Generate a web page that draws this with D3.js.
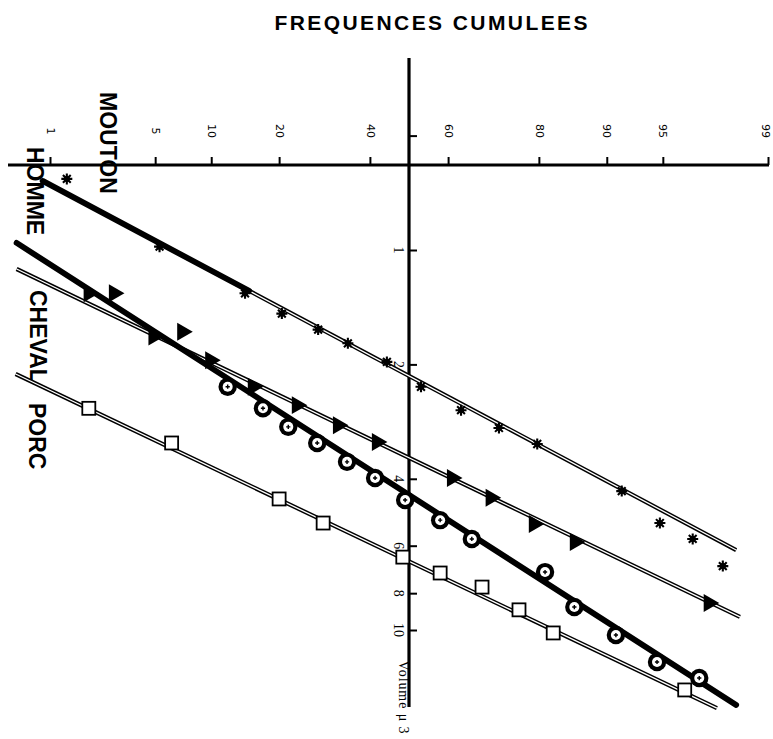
<!DOCTYPE html>
<html>
<head>
<meta charset="utf-8">
<script src="https://cdn.jsdelivr.net/npm/d3@7"></script>
<style>
  body { margin: 0; background: #fff; }
  svg { display: block; background: #fff; }
</style>
</head>
<body>
<svg width="773" height="739"></svg>
<script>
//## DATA ##
// x = cumulative frequency (%), y = volume (µ3)
const percentTicks = [1, 5, 10, 20, 40, 60, 80, 90, 95, 99]
const volumeTicks = [0.5, 1, 2, 4, 6, 8, 10]
const volumeLabels = ['', '1', '2', '4', '6', '8', '10']

//-- MOUTON (asterisks) --
const moutonPct = [1.33, 5.3, 14.4, 20.5, 27.8, 34.6, 44.3, 53.1, 63.2, 72.0, 79.7, 91.6, 94.8, 96.7, 97.9]
const moutonVol = [0.65, 0.98, 1.30, 1.47, 1.62, 1.76, 1.97, 2.29, 2.64, 2.94, 3.24, 4.31, 5.23, 5.76, 6.79]
const moutonFit = [[0.88, 0.658], [98.3, 6.16]]
const moutonSolidTo = 15

//-- HOMME (circles) --
const hommePct = [12.0, 17.2, 21.7, 27.6, 34.4, 41.3, 49.0, 58.0, 65.8, 81.1, 85.8, 91.0, 94.6, 97.0]
const hommeVol = [2.29, 2.61, 2.92, 3.22, 3.61, 3.98, 4.55, 5.14, 5.76, 7.04, 8.70, 10.31, 12.14, 13.38]
const hommeFit = [[0.55, 0.958], [98.3, 15.75]]

//-- CHEVAL (triangles) --
const chevalPct = [1.9, 2.8, 4.9, 7.1, 9.9, 15.6, 23.4, 32.3, 41.8, 61.0, 70.2, 79.1, 85.9, 97.4]
const chevalVol = [1.30, 1.30, 1.69, 1.64, 1.95, 2.29, 2.56, 2.89, 3.20, 3.98, 4.49, 5.26, 5.87, 8.49]
const chevalFit = [[0.55, 1.122], [98.4, 9.24]]

//-- PORC (squares) --
const porcPct = [1.9, 6.2, 20.0, 28.9, 48.4, 58.0, 68.2, 76.2, 82.5, 96.3]
const porcVol = [2.61, 3.22, 4.52, 5.23, 6.43, 7.08, 7.71, 8.85, 10.18, 14.38]
const porcFit = [[0.54, 2.12], [97.7, 16.05]]

//## SETUP ##
const svg = d3.select('svg')
const axisY = 165
const axisX = 409

// inverse normal cdf (Acklam) for the probability scale
const probit = function(p) {
  const a = [-39.69683028665376, 220.9460984245205, -275.9285104469687, 138.3577518672690, -30.66479806614716, 2.506628274631000]
  const b = [-54.47609879822406, 161.5858368580409, -155.6989798598866, 66.80131188771972, -13.28068155288572]
  const c = [-0.007784894002430293, -0.3223964580411365, -2.400758277161838, -2.549732539343734, 4.374664141464968, 2.938163982698783]
  const d = [0.007784695709041462, 0.3224671290700398, 2.445134137142996, 3.754408661907416]
  const pLow = 0.02425
  if (p < pLow) {
    const q = Math.sqrt(-2 * Math.log(p))
    return (((((c[0]*q + c[1])*q + c[2])*q + c[3])*q + c[4])*q + c[5]) / ((((d[0]*q + d[1])*q + d[2])*q + d[3])*q + 1)
  }
  if (p > 1 - pLow) {
    const q = Math.sqrt(-2 * Math.log(1 - p))
    return -(((((c[0]*q + c[1])*q + c[2])*q + c[3])*q + c[4])*q + c[5]) / ((((d[0]*q + d[1])*q + d[2])*q + d[3])*q + 1)
  }
  const q = p - 0.5
  const r = q * q
  return (((((a[0]*r + a[1])*r + a[2])*r + a[3])*r + a[4])*r + a[5])*q / (((((b[0]*r + b[1])*r + b[2])*r + b[3])*r + b[4])*r + 1)
}

//-- Scales --
const scaleZ = d3.scaleLinear()
  .domain([probit(0.01), probit(0.99)])
  .range([50, 768])
const scaleX = pct => scaleZ(probit(pct / 100))
const scaleY = d3.scaleLog()
  .domain([1, 10])
  .range([250, 630])

const zip = (pcts, vols) => pcts.map((p, i) => [p, vols[i]])
const lineGen = d3.line().x(d => scaleX(d[0])).y(d => scaleY(d[1]))

// point on a fitted line at a given percentage (straight in z / log space)
const pointOnFit = function(fit, pct) {
  const t = (probit(pct / 100) - probit(fit[0][0] / 100)) / (probit(fit[1][0] / 100) - probit(fit[0][0] / 100))
  const logV = Math.log10(fit[0][1]) + t * (Math.log10(fit[1][1]) - Math.log10(fit[0][1]))
  return [pct, Math.pow(10, logV)]
}

//## TITLE ##
svg.append('text')
  .attr('x', 431)
  .attr('y', 30)
  .attr('text-anchor', 'middle')
  .attr('textLength', 313)
  .attr('lengthAdjust', 'spacing')
  .style('font-family', "'Liberation Sans', Arial, sans-serif")
  .style('font-size', '21px')
  .style('font-weight', 'bold')
  .text('FREQUENCES CUMULEES')

//## AXES ##
const xAxis = d3.axisTop(scaleZ)
  .tickValues(percentTicks.map(p => probit(p / 100)))
  .tickFormat((d, i) => percentTicks[i])
  .tickSize(8)
  .tickSizeOuter(0)

const xAxisGroup = svg.append('g')
  .attr('transform', 'translate(0,' + axisY + ')')
  .call(xAxis)

xAxisGroup.select('.domain').remove()
xAxisGroup.selectAll('.tick line').attr('stroke', '#000').attr('stroke-width', 2)
xAxisGroup.selectAll('.tick text')
  .attr('x', 0)
  .attr('y', 0)
  .attr('dy', '0.35em')
  .attr('text-anchor', 'middle')
  .attr('transform', (d, i) => 'translate(' + (i === percentTicks.length - 1 ? -3 : 0) + ',-34) rotate(90)')
  .attr('fill', '#000')
  .style('font-family', "'DejaVu Sans', sans-serif")
  .style('font-size', '11px')

svg.append('line')
  .attr('x1', 8).attr('x2', scaleX(99) + 1)
  .attr('y1', axisY).attr('y2', axisY)
  .attr('stroke', '#000')
  .attr('stroke-width', 3.2)

const yAxis = d3.axisRight(scaleY)
  .tickValues(volumeTicks)
  .tickFormat('')
  .tickSize(8)
  .tickSizeOuter(0)

const yAxisGroup = svg.append('g')
  .attr('transform', 'translate(' + axisX + ',0)')
  .call(yAxis)

yAxisGroup.select('.domain').remove()
yAxisGroup.selectAll('.tick line').attr('stroke', '#000').attr('stroke-width', 2)

svg.append('line')
  .attr('x1', axisX).attr('x2', axisX)
  .attr('y1', 58).attr('y2', 707)
  .attr('stroke', '#000')
  .attr('stroke-width', 3.2)

svg.append('g').selectAll('text').data(volumeTicks)
  .enter().append('text')
    .attr('transform', d => 'translate(' + (axisX - 15) + ',' + scaleY(d) + ') rotate(90)')
    .attr('text-anchor', 'middle')
    .style('font-family', "'Liberation Serif', 'Times New Roman', serif")
    .style('font-size', '14px')
    .text((d, i) => volumeLabels[i])

svg.append('text')
  .attr('transform', 'translate(' + (axisX - 10) + ',697) rotate(90)')
  .attr('text-anchor', 'middle')
  .attr('textLength', 73)
  .attr('lengthAdjust', 'spacing')
  .style('font-family', "'Liberation Serif', 'Times New Roman', serif")
  .style('font-size', '14px')
  .text('Volume μ 3')

//## SERIES NAMES ##
const names = ['MOUTON', 'HOMME', 'CHEVAL', 'PORC']
const nameX = [100, 27, 30, 29]
const nameY = [92, 147, 290, 403]
svg.append('g').selectAll('text').data(names)
  .enter().append('text')
    .attr('transform', (d, i) => 'translate(' + nameX[i] + ',' + nameY[i] + ') rotate(90)')
    .style('font-family', "'Liberation Sans', Arial, sans-serif")
    .style('font-size', '23px')
    .style('font-weight', 'bold')
    .text(d => d)

//## LINES ##
const drawDouble = function(points) {
  svg.append('path').attr('d', lineGen(points))
    .attr('fill', 'none').attr('stroke', '#000').attr('stroke-width', 4.2)
  svg.append('path').attr('d', lineGen(points))
    .attr('fill', 'none').attr('stroke', '#fff').attr('stroke-width', 1.3)
}
const drawThick = function(points) {
  svg.append('path').attr('d', lineGen(points))
    .attr('fill', 'none').attr('stroke', '#000').attr('stroke-width', 5.8)
    .attr('stroke-linecap', 'round')
}

drawDouble(moutonFit)
drawThick([moutonFit[0], pointOnFit(moutonFit, moutonSolidTo)])
drawDouble(chevalFit)
drawDouble(porcFit)
drawThick(hommeFit)

//## MARKERS ##
// asterisks
const stars = svg.append('g').selectAll('g').data(zip(moutonPct, moutonVol))
  .enter().append('g')
    .attr('transform', d => 'translate(' + scaleX(d[0]) + ',' + scaleY(d[1]) + ')')
stars.append('path')
  .attr('d', 'M-5.5,0L5.5,0M0,-5.5L0,5.5M-3.9,-3.9L3.9,3.9M-3.9,3.9L3.9,-3.9')
  .attr('stroke', '#000')
  .attr('stroke-width', 2.1)
stars.append('circle').attr('r', 3).attr('fill', '#000')

// triangles pointing right
svg.append('g').selectAll('path').data(zip(chevalPct, chevalVol))
  .enter().append('path')
    .attr('d', d3.symbol(d3.symbolTriangle, 140))
    .attr('transform', d => 'translate(' + scaleX(d[0]) + ',' + scaleY(d[1]) + ') rotate(90)')
    .attr('fill', '#000')

// circles with a star
const rings = svg.append('g').selectAll('g').data(zip(hommePct, hommeVol))
  .enter().append('g')
    .attr('transform', d => 'translate(' + scaleX(d[0]) + ',' + scaleY(d[1]) + ')')
rings.append('circle').attr('r', 9.2).attr('fill', '#000')
rings.append('circle').attr('r', 5).attr('fill', '#fff')
rings.append('path')
  .attr('d', d3.symbol(d3.symbolCross, 10))
  .attr('fill', '#000')

// open squares
svg.append('g').selectAll('rect').data(zip(porcPct, porcVol))
  .enter().append('rect')
    .attr('x', d => scaleX(d[0]) - 6.5)
    .attr('y', d => scaleY(d[1]) - 6.5)
    .attr('width', 13)
    .attr('height', 13)
    .attr('fill', '#fff')
    .attr('stroke', '#000')
    .attr('stroke-width', 1.8)
</script>
</body>
</html>
